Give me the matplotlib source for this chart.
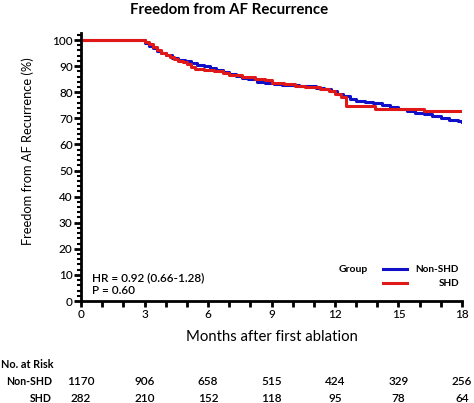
import matplotlib
matplotlib.use('Agg')
import matplotlib.pyplot as plt
from matplotlib.ticker import MultipleLocator
import matplotlib.transforms as mtransforms

plt.rcParams['font.family'] = ['Lato', 'DejaVu Sans']

# Kaplan-Meier steps (months, % free of recurrence)
non_shd_t = [0, 3.0, 3.2, 3.4, 3.6, 3.8, 4.0, 4.3, 4.6, 4.9, 5.2, 5.5, 5.8, 6.1, 6.4,
             6.7, 7.0, 7.3, 7.6, 7.9, 8.3, 8.7, 9.1, 9.5, 9.9, 10.3, 10.7, 11.1, 11.5,
             11.8, 12.1, 12.4, 12.7, 13.0, 13.4, 13.8, 14.2, 14.6, 15.0, 15.4, 15.8,
             16.2, 16.6, 17.0, 17.4, 17.8, 18.0]
non_shd_s = [100, 99.0, 97.8, 96.8, 95.8, 95.0, 94.2, 93.3, 92.5, 91.8, 91.1, 90.6,
             90.0, 89.3, 88.6, 87.7, 86.8, 86.2, 85.5, 84.9, 84.0, 83.5, 83.2, 82.9,
             82.6, 82.4, 82.2, 81.8, 81.3, 80.5, 79.4, 78.4, 77.3, 76.7, 76.2, 75.8,
             75.0, 74.2, 73.6, 72.8, 72.2, 71.5, 70.8, 70.2, 69.5, 69.0, 68.7]

shd_t = [0, 3.0, 3.2, 3.4, 3.6, 3.8, 4.0, 4.2, 4.4, 4.6, 4.8, 5.0, 5.2, 5.4, 5.8, 6.3,
         6.7, 7.0, 7.6, 8.2, 8.7, 9.0, 9.6, 10.1, 10.6, 11.3, 11.7, 12.0, 12.3, 12.5,
         13.9, 16.2, 18.0]
shd_s = [100, 99.3, 98.3, 97.3, 96.2, 95.2, 94.3, 93.5, 92.8, 92.0, 91.4, 90.8, 89.8,
         89.0, 88.5, 88.0, 87.5, 86.5, 86.0, 85.2, 84.6, 83.6, 83.0, 82.5, 82.1, 81.4,
         80.5, 79.5, 78.3, 74.6, 73.5, 72.7, 72.7]

risk_months = [0, 3, 6, 9, 12, 15, 18]
risk_non_shd = [1170, 906, 658, 515, 424, 329, 256]
risk_shd = [282, 210, 152, 118, 95, 78, 64]

BLUE = '#1010c8'
RED = '#e01818'


def fy(px):
    # pixel row -> figure fraction
    return 1 - px / 403


fig = plt.figure(figsize=(4.74, 4.03), dpi=100)
ax = fig.add_axes([81 / 474, fy(301), (462 - 81) / 474, (301 - 33) / 403])

ax.plot(non_shd_t, non_shd_s, drawstyle='steps-post', color=BLUE, lw=2.2, label='Non-SHD')
ax.plot(shd_t, shd_s, drawstyle='steps-post', color=RED, lw=2.2, label='SHD')

ax.set_xlim(0, 18)
ax.set_ylim(0, 102.7)
for s in ['top', 'right']:
    ax.spines[s].set_visible(False)
for s in ['left', 'bottom']:
    ax.spines[s].set_linewidth(2.0)
ax.xaxis.set_major_locator(MultipleLocator(3))
ax.xaxis.set_minor_locator(MultipleLocator(1))
ax.yaxis.set_minor_locator(MultipleLocator(2))
ax.set_yticks(range(0, 101, 10))
ax.tick_params(axis='x', which='both', length=4, width=2, labelsize=8.5, pad=2)
ax.tick_params(axis='y', which='major', length=5, width=2, labelsize=8.5, pad=1)
ax.tick_params(axis='y', which='minor', length=3, width=1.5)
for lab in ax.get_xticklabels() + ax.get_yticklabels():
    lab.set_fontweight('medium')

ax.set_xlabel('Months after first ablation', fontsize=10.7)
ax.xaxis.set_label_coords(0.5, (301 - 337) / 268)
ax.xaxis.label.set_va('center')
ax.set_ylabel('Freedom from AF Recurrence (%)', fontsize=9.3)
ax.yaxis.set_label_coords((28 - 81) / 381, (301 - 151) / 268)
ax.yaxis.label.set_va('center')

fig.text(229 / 474, fy(10), 'Freedom from AF Recurrence', fontsize=10.8,
         fontweight='bold', ha='center', va='center')

fig.text(92 / 474, fy(278), 'HR = 0.92 (0.66-1.28)', fontsize=8.5, fontweight='semibold', va='center')
fig.text(92 / 474, fy(290.5), 'P = 0.60', fontsize=8.5, fontweight='semibold', va='center')

# legend drawn by hand to keep the GraphPad layout
fig.text(353 / 474, fy(269), 'Group', fontsize=7.5, fontweight='bold', ha='center', va='center')
for y, c in [(269, BLUE), (283, RED)]:
    fig.add_artist(plt.Line2D([383 / 474, 407 / 474], [fy(y)] * 2, color=c, lw=2.2))
fig.text(459 / 474, fy(269), 'Non-SHD', fontsize=7.2, fontweight='bold', ha='right', va='center')
fig.text(459 / 474, fy(283), 'SHD', fontsize=7.2, fontweight='bold', ha='right', va='center')

# number at risk table, aligned to the x axis
trans = mtransforms.blended_transform_factory(ax.transData, fig.transFigure)
fig.text(1 / 474, fy(365), 'No. at Risk', fontsize=7.8, fontweight='bold', va='center')
fig.text(52 / 474, fy(381.5), 'Non-SHD', fontsize=7.6, fontweight='bold', ha='right', va='center')
fig.text(52 / 474, fy(398), 'SHD', fontsize=7.6, fontweight='bold', ha='right', va='center')
for m, a, b in zip(risk_months, risk_non_shd, risk_shd):
    ax.text(m, fy(381.5), str(a), transform=trans, fontsize=8.5,
            fontweight='semibold', ha='center', va='center', clip_on=False)
    ax.text(m, fy(398), str(b), transform=trans, fontsize=8.5,
            fontweight='semibold', ha='center', va='center', clip_on=False)

fig.savefig('out.png', dpi=100)
